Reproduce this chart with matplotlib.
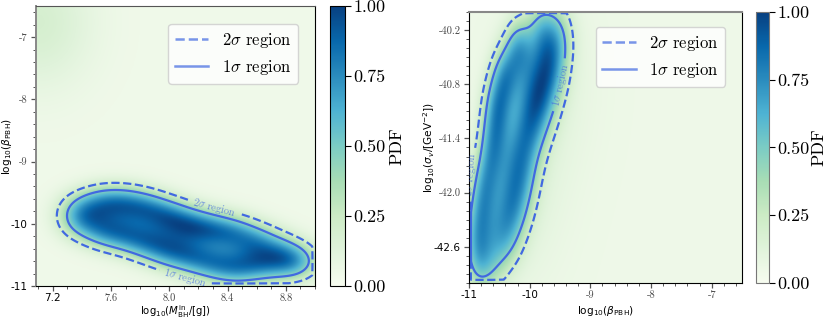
import numpy as np
import matplotlib
matplotlib.use("Agg")
import matplotlib.pyplot as plt
from matplotlib.lines import Line2D

plt.rcParams.update({"mathtext.fontset": "cm", "font.family": "serif", "font.serif": ["cmr10"],
                     "axes.unicode_minus": False, "axes.formatter.use_mathtext": True})

LINE = "#4169e1"
LEV_2SIG, LEV_1SIG = 0.22, 0.45

# ---- left panel: anchor samples for log10(M_BH^in) vs log10(beta_PBH)
m_nodes = [7.40, 7.55, 7.70, 7.85, 8.00, 8.15, 8.30, 8.45, 8.60, 8.75, 8.88]
b_upper = [-9.76, -9.67, -9.68, -9.76, -9.89, -10.03, -10.10, -10.16, -10.29, -10.43, -10.58]
b_lower = [-9.98, -10.11, -10.18, -10.30, -10.43, -10.53, -10.64, -10.72, -10.67, -10.64, -10.64]
w_left = [0.70, 0.90, 0.93, 0.97, 1.00, 0.97, 0.92, 0.88, 0.80, 0.58, 0.46]
left_peak_m = [7.52, 7.70, 8.05, 8.45, 8.66]
left_peak_b = [-9.88, -9.93, -10.12, -10.42, -10.52]
left_peak_w = [0.10, 0.18, 0.42, 0.24, 0.18]
left_bg_m, left_bg_b, left_bg_w = [7.10], [-6.75], [0.15]
left_xt = [7.2, 7.6, 8.0, 8.4, 8.8]
left_xtl = ["7.2", "7.6", "8.0", "8.4", "8.8"]
left_yt = [-11, -10, -9, -8, -7]
left_ytl = ["-11", "-10", "-9", "-8", "-7"]

# ---- right panel: anchor samples for log10(beta_PBH) vs log10(sigma_v)
s_nodes = [-40.15, -40.40, -40.70, -41.00, -41.30, -41.60, -41.90, -42.20, -42.50, -42.80]
beta_left = [-9.84, -10.18, -10.40, -10.52, -10.57, -10.63, -10.73, -10.80, -10.86, -10.86]
beta_right = [-9.58, -9.64, -9.72, -9.86, -10.00, -10.13, -10.20, -10.30, -10.44, -10.66]
w_left_row = [0.45, 0.95, 1.00, 0.95, 0.85, 0.80, 0.80, 0.80, 0.75, 0.50]
w_right_row = [0.45, 0.95, 1.00, 0.95, 0.85, 0.80, 0.80, 0.80, 0.75, 0.50]
right_peak_beta = [-10.02, -10.28, -10.42, -10.55]
right_peak_s = [-40.75, -41.35, -41.95, -42.50]
right_peak_w = [0.60, 0.25, 0.25, 0.14]
right_halo_beta, right_halo_s, right_halo_w = [-9.55, -9.85, -10.15], [-40.70, -41.50, -42.30], [0.10, 0.10, 0.10]
right_xt = [-11, -10, -9, -8, -7]
right_xtl = ["-11", "-10", "-9", "-8", "-7"]
right_yt = [-42.6, -42.0, -41.4, -40.8, -40.2]
right_ytl = ["-42.6", "-42.0", "-41.4", "-40.8", "-40.2"]
cbar_ticks = [0.0, 0.25, 0.5, 0.75, 1.0]


def kde(X, Y, xs, ys, ws, sx, sy):
    Z = np.zeros_like(X)
    for x0, y0, w in zip(xs, ys, ws):
        Z += w * np.exp(-0.5 * (((X - x0) / sx) ** 2 + ((Y - y0) / sy) ** 2))
    return Z


def style_ticks(ax, xt, xtl, sans_x, yt, ytl, sans_y):
    ax.set_xticks(xt); ax.set_xticklabels(xtl)
    ax.set_yticks(yt); ax.set_yticklabels(ytl)
    for lab in list(ax.get_xticklabels()) + list(ax.get_yticklabels()):
        if lab.get_text() in sans_x + sans_y:
            lab.set_fontfamily("DejaVu Sans"); lab.set_fontsize(7.5)
        else:
            lab.set_fontsize(7.5); lab.set_color("#444")
    ax.tick_params(which="major", length=3.5, width=0.9, color="#555", pad=2.5)
    ax.tick_params(axis="x", which="major", pad=1.8)
    ax.tick_params(which="minor", length=2, width=0.7, color="#555")


def legend(ax, anchor):
    h = [Line2D([], [], color=LINE, ls="--", lw=1.8, alpha=0.7),
         Line2D([], [], color=LINE, ls="-", lw=1.8, alpha=0.7)]
    ax.legend(h, [r"$2\sigma$ region", r"$1\sigma$ region"], loc="upper right",
              bbox_to_anchor=anchor, borderaxespad=0, fontsize=12)


def colorbar(fig, im, rect, labx):
    cax = fig.add_axes(rect)
    cb = fig.colorbar(im, cax=cax, ticks=cbar_ticks)
    cb.ax.set_yticklabels([f"{t:.2f}" for t in cbar_ticks])
    cb.ax.tick_params(labelsize=13, length=4, pad=2)
    cb.set_label("PDF", fontsize=13)
    cb.ax.yaxis.label.set_verticalalignment("center")
    cb.ax.yaxis.label.set_horizontalalignment("center")
    cb.ax.yaxis.set_label_coords(labx, 0.5)
    return cb


def axis_labels(ax, xl, yl, xc, yc, fs=7.6):
    ax.set_xlabel(xl, fontfamily="DejaVu Sans", fontsize=fs, math_fontfamily="dejavusans")
    ax.set_ylabel(yl, fontfamily="DejaVu Sans", fontsize=7.6, math_fontfamily="dejavusans")
    ax.xaxis.label.set_verticalalignment("center"); ax.xaxis.set_label_coords(0.5, xc)
    ax.yaxis.label.set_verticalalignment("center"); ax.yaxis.set_label_coords(yc, 0.5)


fig = plt.figure(figsize=(8.3, 3.19), dpi=100)

# ================= left =================
ax1 = fig.add_axes([0.0434, 0.1034, 0.3361, 0.8777])
x1 = np.linspace(7.086, 9.0, 400); y1 = np.linspace(-11.0, -6.5, 400)
X1, Y1 = np.meshgrid(x1, y1)
Z1 = (kde(X1, Y1, m_nodes, b_upper, w_left, 0.11, 0.20) + kde(X1, Y1, m_nodes, b_lower, w_left, 0.11, 0.20)
      + kde(X1, Y1, left_peak_m, left_peak_b, left_peak_w, 0.18, 0.25))
Z1 /= Z1.max()
Z1 = 0.04 + 0.96 * Z1 + kde(X1, Y1, left_bg_m, left_bg_b, left_bg_w, 0.25, 0.7)
im1 = ax1.imshow(Z1, origin="lower", extent=[7.086, 9.0, -11.0, -6.5], aspect="auto",
                 cmap="GnBu", vmin=0, vmax=1, interpolation="bilinear")
Zc1 = Z1.copy(); Zc1[(Y1 < -10.955) | (X1 > 8.982)] = 0
cs2 = ax1.contour(X1, Y1, Zc1, levels=[LEV_2SIG], colors=LINE, linestyles="--", linewidths=1.6)
cs1 = ax1.contour(X1, Y1, Zc1, levels=[LEV_1SIG], colors=LINE, linestyles="-", linewidths=1.6)
t = ax1.clabel(cs2, fmt={LEV_2SIG: r"$2\sigma$ region"}, manual=[(8.30, -9.80)], fontsize=7.5, inline=True)
t += ax1.clabel(cs2, fmt={LEV_2SIG: r"$1\sigma$ region"}, manual=[(8.12, -10.80)], fontsize=7.5, inline=True)
for tx in t: tx.set_alpha(0.7)
ax1.set_xlim(7.086, 9.0); ax1.set_ylim(-11.0, -6.5)
ax1.set_xticks(np.arange(7.1, 9.01, 0.1), minor=True)
ax1.set_yticks(np.arange(-11.0, -6.55, 0.2), minor=True)
style_ticks(ax1, left_xt, left_xtl, ["7.2"], left_yt, left_ytl, ["-10", "-11"])
axis_labels(ax1, r"log$_{10}$($M_{\rm BH}^{\rm in}$/[g])", r"log$_{10}$($\beta_{\rm PBH}$)", -0.092, -0.103, fs=7.3)
ax1.spines["left"].set_color("#888"); ax1.spines["left"].set_linewidth(1.4)
ax1.spines["top"].set_color("#555")
legend(ax1, (0.939, 0.936))
colorbar(fig, im1, [0.3976, 0.1034, 0.0181, 0.8777], 4.47)

# ================= right =================
ax2 = fig.add_axes([0.5651, 0.1129, 0.3289, 0.8495])
x2 = np.linspace(-11.0, -6.5, 400); y2 = np.linspace(-43.0, -40.0, 400)
X2, Y2 = np.meshgrid(x2, y2)
Z2 = (kde(X2, Y2, beta_left, s_nodes, w_left_row, 0.16, 0.22)
      + kde(X2, Y2, beta_right, s_nodes, w_right_row, 0.20, 0.22)
      + kde(X2, Y2, right_peak_beta, right_peak_s, right_peak_w, 0.25, 0.35)
      + kde(X2, Y2, right_halo_beta, right_halo_s, right_halo_w, 0.45, 0.6))
Z2 /= Z2.max()
Z2 = 0.05 + 0.95 * Z2
im2 = ax2.imshow(Z2, origin="lower", extent=[-11.0, -6.5, -43.0, -40.0], aspect="auto",
                 cmap="GnBu", vmin=0, vmax=1, interpolation="bilinear")
Zc2 = Z2.copy(); Zc2[(X2 < -10.975) | (Y2 < -42.965) | (Y2 > -40.01)] = 0
cs2r = ax2.contour(X2, Y2, Zc2, levels=[LEV_2SIG], colors=LINE, linestyles="--", linewidths=1.6)
cs1r = ax2.contour(X2, Y2, Zc2, levels=[LEV_1SIG], colors=LINE, linestyles="-", linewidths=1.6)
t = ax2.clabel(cs1r, fmt={LEV_1SIG: r"$1\sigma$ region"}, manual=[(-9.55, -40.80)], fontsize=7.5, inline=True)
t += ax2.clabel(cs2r, fmt={LEV_2SIG: r"$2\sigma$ region"}, manual=[(-10.95, -41.80)], fontsize=7.5, inline=True)
for tx in t: tx.set_alpha(0.7)
ax2.set_xlim(-11.0, -6.5); ax2.set_ylim(-43.0, -40.0)
ax2.set_xticks(np.arange(-11.0, -6.45, 0.2), minor=True)
ax2.set_yticks(np.arange(-43.0, -39.95, 0.1), minor=True)
style_ticks(ax2, right_xt, right_xtl, ["-11", "-10"], right_yt, right_ytl, ["-42.6"])
axis_labels(ax2, r"log$_{10}$($\beta_{\rm PBH}$)", r"log$_{10}$($\sigma_v$/[GeV$^{-2}$])", -0.105, -0.147)
ax2.spines["top"].set_color("#888"); ax2.spines["top"].set_linewidth(1.5)
legend(ax2, (0.938, 0.945))
cb2 = colorbar(fig, im2, [0.9108, 0.1129, 0.0157, 0.8495], 4.85)
cb2.outline.set_edgecolor("#777")

fig.savefig("out.png", dpi=100)
